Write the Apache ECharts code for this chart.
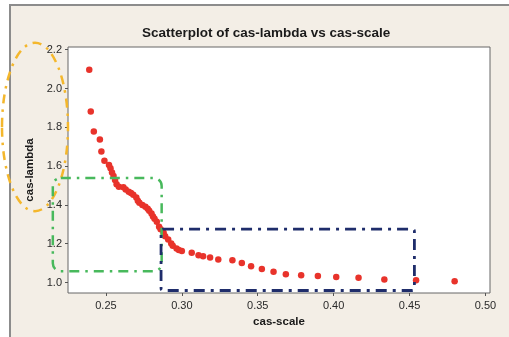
<!DOCTYPE html>
<html><head><meta charset="utf-8">
<script src="https://cdn.jsdelivr.net/npm/echarts@6/dist/echarts.min.js"></script>
<style>html,body{margin:0;padding:0;background:#fff}#c{width:509px;height:337px}</style>
</head><body><div id="c"></div>
<script>
// cas-scale (x) and cas-lambda (y) pairs
const casScale = [
  0.239, 0.240, 0.242, 0.246, 0.247, 0.249, 0.252, 0.253, 0.254, 0.255,
  0.256, 0.257, 0.2585, 0.2615, 0.263, 0.265, 0.2665, 0.268, 0.270, 0.271,
  0.272, 0.274, 0.276, 0.2775, 0.2785, 0.280, 0.281, 0.282, 0.2835, 0.285,
  0.286, 0.288, 0.289, 0.291, 0.293, 0.294, 0.2965, 0.298, 0.300, 0.3065,
  0.311, 0.314, 0.3186, 0.324, 0.3333, 0.3395, 0.3456, 0.3527, 0.3604, 0.3685,
  0.3786, 0.3896, 0.4017, 0.4164, 0.4334, 0.4543, 0.4797
];
const casLambda = [
  2.097, 1.881, 1.778, 1.737, 1.675, 1.628, 1.606, 1.589, 1.567, 1.549,
  1.528, 1.506, 1.494, 1.491, 1.479, 1.468, 1.461, 1.453, 1.438, 1.421,
  1.411, 1.399, 1.390, 1.380, 1.370, 1.356, 1.340, 1.329, 1.313, 1.288,
  1.274, 1.257, 1.239, 1.222, 1.201, 1.189, 1.175, 1.167, 1.163, 1.153,
  1.141, 1.136, 1.129, 1.119, 1.115, 1.101, 1.084, 1.070, 1.055, 1.043,
  1.038, 1.034, 1.029, 1.024, 1.015, 1.012, 1.007
];
const xTicks = [0.25, 0.30, 0.35, 0.40, 0.45, 0.50];
const yTicks = [1.0, 1.2, 1.4, 1.6, 1.8, 2.0, 2.2];

// highlighted regions, data units: [xMin, xMax, yMin, yMax]
const steepRegion = [0.215, 0.2867, 1.058, 1.539];
const flatRegion = [0.2863, 0.4532, 0.959, 1.275];
// ellipse around the y-axis labels: vertical span in data units
const axisEllipseY = [1.368, 2.236];

const chart = echarts.init(document.getElementById('c'));
const font = 'Liberation Sans, Arial, sans-serif';

chart.setOption({
  backgroundColor: '#fff',
  animation: false,
  title: {
    text: 'Scatterplot of cas-lambda vs cas-scale',
    left: 137, top: 21,
    textStyle: { fontFamily: font, fontSize: 13.5, fontWeight: 'bold', color: '#1a1a1a' }
  },
  grid: {
    left: 68, right: 19, top: 47, bottom: 44,
    show: true, backgroundColor: '#fff', borderColor: '#666', borderWidth: 1
  },
  xAxis: {
    type: 'value', min: 0.225, max: 0.503,
    name: 'cas-scale', nameLocation: 'middle', nameGap: 20,
    nameTextStyle: { fontFamily: font, fontSize: 11.5, fontWeight: 'bold', color: '#1a1a1a' },
    axisLine: { show: false },
    splitLine: { show: false },
    axisTick: { show: true, length: 3, inside: false, customValues: xTicks, lineStyle: { color: '#555' } },
    axisLabel: { customValues: xTicks, margin: 7, fontFamily: font, fontSize: 11, color: '#2a2a2a',
      formatter: v => v.toFixed(2) }
  },
  yAxis: {
    type: 'value', min: 0.946, max: 2.214,
    name: 'cas-lambda', nameLocation: 'middle', nameGap: 28, nameRotate: 90,
    nameTextStyle: { fontFamily: font, fontSize: 11.5, fontWeight: 'bold', color: '#1a1a1a' },
    axisLine: { show: false },
    splitLine: { show: false },
    axisTick: { show: true, length: 3, customValues: yTicks, lineStyle: { color: '#555' } },
    axisLabel: { customValues: yTicks, margin: 6, fontFamily: font, fontSize: 11, color: '#2a2a2a',
      formatter: v => v.toFixed(1) }
  },
  series: [{
    type: 'scatter',
    symbolSize: 6.5,
    itemStyle: { color: '#e8332b', opacity: 1 },
    data: casScale.map((x, i) => [x, casLambda[i]])
  }]
});

// outer panel and annotation outlines, placed through the axis scales
function px(x, y) { return chart.convertToPixel({ gridIndex: 0 }, [x, y]); }
function regionRect(r) {
  const a = px(r[0], r[3]), b = px(r[1], r[2]);
  return { x: a[0], y: a[1], width: b[0] - a[0], height: b[1] - a[1] };
}
const g = regionRect(steepRegion);
const n = regionRect(flatRegion);
const eTop = px(0.225, axisEllipseY[1])[1];
const eBot = px(0.225, axisEllipseY[0])[1];
const gridLeft = px(0.225, 1)[0];

chart.setOption({
  graphic: [
    { type: 'rect', z: -10, silent: true,
      shape: { x: 10, y: 5, width: 520, height: 350 },
      style: { fill: '#f3eee6', stroke: '#8c8c8c', lineWidth: 2 } },
    { type: 'ellipse', z: 100, silent: true,
      shape: { cx: gridLeft - 33, cy: (eTop + eBot) / 2, rx: 33, ry: (eBot - eTop) / 2 },
      style: { fill: 'none', stroke: '#f4b72c', lineWidth: 2.5, lineDash: [9, 6, 2.5, 6] } },
    { type: 'rect', z: 100, silent: true,
      shape: { x: g.x, y: g.y, width: g.width, height: g.height, r: 8 },
      style: { fill: 'none', stroke: '#48b95c', lineWidth: 2.5, lineDash: [10, 6, 2.5, 6] } },
    { type: 'rect', z: 100, silent: true,
      shape: { x: n.x, y: n.y, width: n.width, height: n.height, r: 2 },
      style: { fill: 'none', stroke: '#1f2d6b', lineWidth: 2.8, lineDash: [11, 6, 3, 6] } }
  ]
});
</script>
</body></html>
